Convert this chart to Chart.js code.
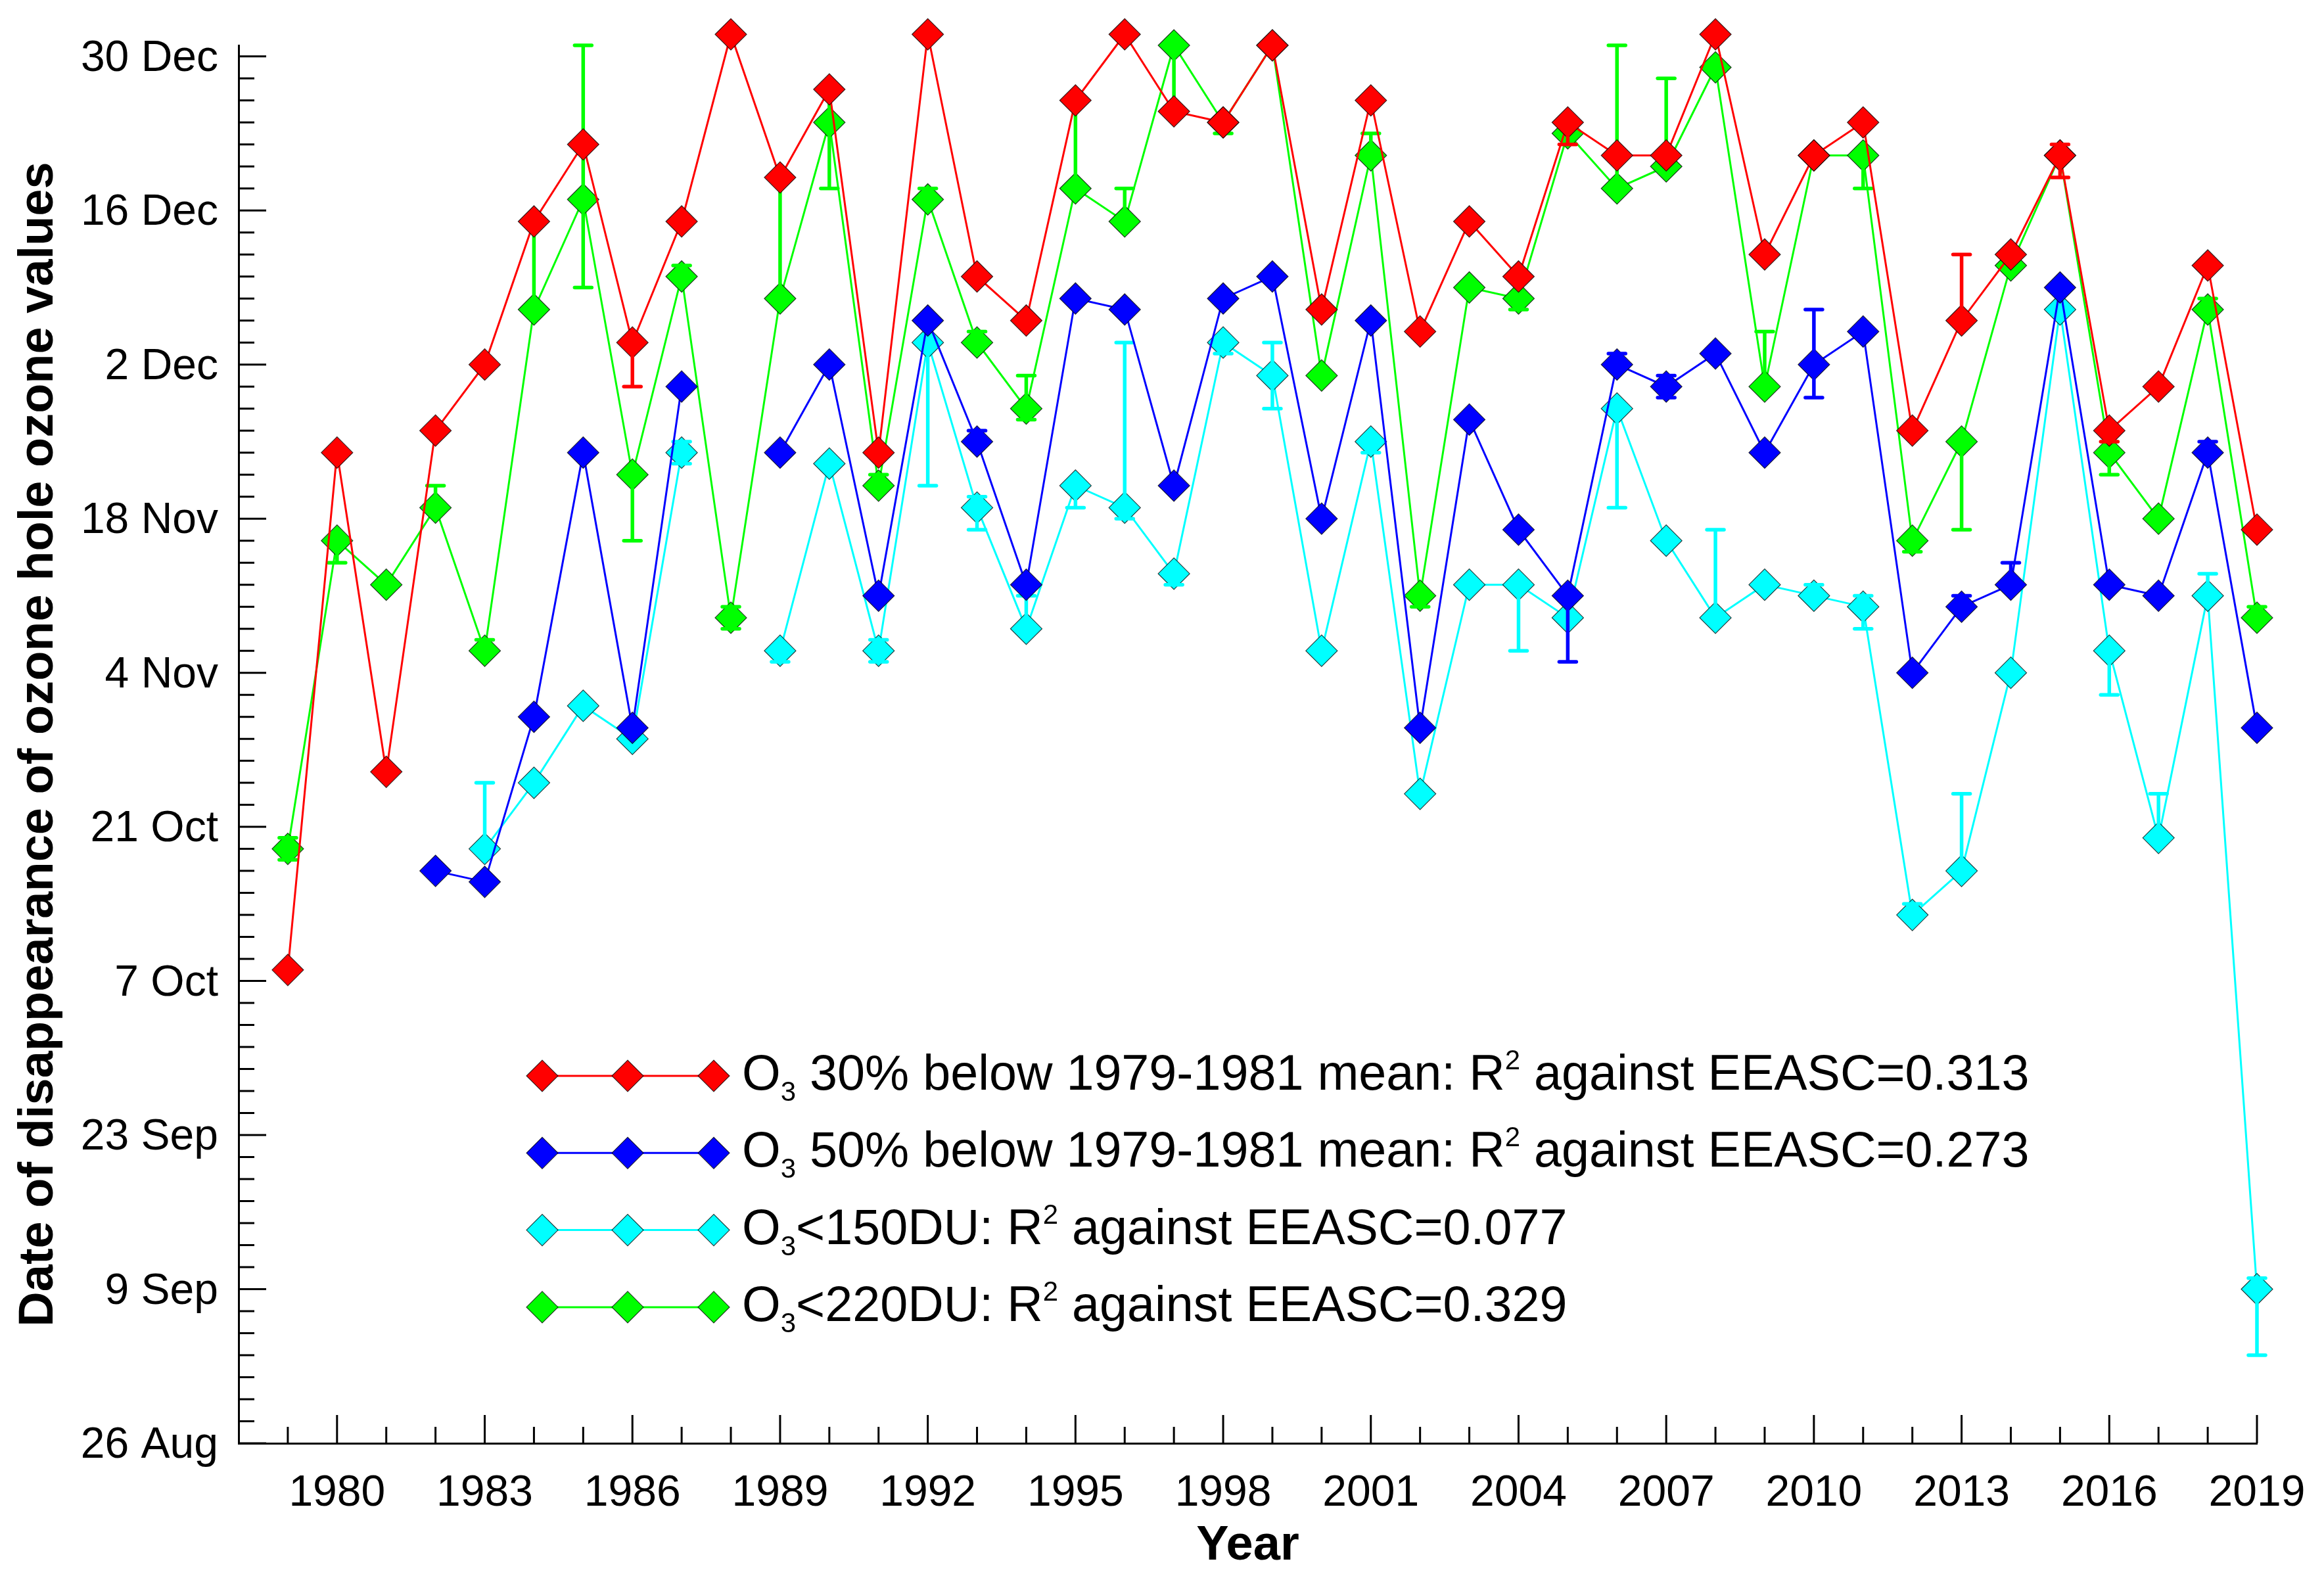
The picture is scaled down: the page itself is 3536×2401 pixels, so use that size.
<!DOCTYPE html>
<html>
<head>
<meta charset="utf-8">
<title>Ozone hole disappearance dates</title>
<script src="https://cdn.jsdelivr.net/npm/chart.js@4.4.0/dist/chart.umd.min.js"></script>
<style>
  html, body { margin: 0; padding: 0; background: #fff; }
  #wrap { width: 3536px; height: 2401px; }
</style>
</head>
<body>
<div id="wrap"><canvas id="ozoneChart" width="3536" height="2401" style="width:3536px;height:2401px"></canvas></div>
<script>
// values are days after 26 Aug (0 = 26 Aug, 126 = 30 Dec)
const years = [1979, 1980, 1981, 1982, 1983, 1984, 1985, 1986, 1987, 1988,
  1989, 1990, 1991, 1992, 1993, 1994, 1995, 1996, 1997, 1998,
  1999, 2000, 2001, 2002, 2003, 2004, 2005, 2006, 2007, 2008,
  2009, 2010, 2011, 2012, 2013, 2014, 2015, 2016, 2017, 2018, 2019];

const below30 = [43, 90, 61, 92, 98, 111, 118, 100, 111, 128,
  115, 123, 90, 128, 106, 102, 122, 128, 121, 120,
  127, 103, 122, 101, 111, 106, 120, 117, 117, 128,
  108, 117, 120, 92, 102, 108, 117, 92, 96, 107, 83];

const below50 = [null, null, null, 52, 51, 66, 90, 65, 96, null,
  90, 98, 77, 102, 91, 78, 104, 103, 87, 104,
  106, 84, 102, 65, 93, 83, 77, 98, 96, 99,
  90, 98, 101, 70, 76, 78, 105, 78, 77, 90, 65];

const under150 = [null, null, null, null, 54, 60, 67, 64, 90, null,
  72, 89, 72, 100, 85, 74, 87, 85, 79, 100,
  97, 72, 91, 59, 78, 78, 75, 94, 82, 75,
  78, 77, 76, 48, 52, 70, 103, 72, 55, 77, 14];

const under220 = [54, 82, 78, 85, 72, 103, 113, 88, 106, 75,
  104, 120, 87, 113, 100, 94, 114, 111, 127, 120,
  127, 97, 117, 77, 105, 104, 119, 114, 116, 125,
  96, 117, 117, 82, 91, 107, 117, 90, 84, 103, 75];

// error ranges: [year, low, high]
const below30Err = [[1986, 96, 100], [2005, 118, 120], [2013, 102, 108], [2015, 115, 118], [2016, 91, 92]];
const below50Err = [[1993, 91, 92], [2005, 71, 77], [2006, 98, 99], [2007, 95, 97], [2010, 95, 103],
  [2013, 76, 77], [2014, 78, 80], [2018, 90, 91]];
const under150Err = [[1983, 54, 60], [1987, 89, 91], [1989, 71, 72], [1991, 71, 73], [1992, 87, 100],
  [1993, 83, 86], [1994, 74, 77], [1995, 85, 87], [1996, 84, 100], [1997, 78, 79], [1998, 99, 100],
  [1999, 94, 100], [2001, 90, 91], [2004, 72, 78], [2006, 85, 94], [2008, 75, 83], [2010, 77, 78],
  [2011, 74, 77], [2012, 48, 49], [2013, 52, 59], [2016, 68, 72], [2017, 55, 59], [2018, 77, 79], [2019, 8, 15]];
const under220Err = [[1979, 53, 55], [1980, 80, 82], [1982, 85, 87], [1983, 72, 73], [1984, 103, 111],
  [1985, 105, 127], [1986, 82, 88], [1987, 106, 107], [1988, 74, 76], [1989, 104, 115], [1990, 114, 123],
  [1991, 87, 88], [1992, 113, 114], [1993, 100, 101], [1994, 93, 97], [1995, 114, 122], [1996, 111, 114],
  [1997, 121, 127], [1998, 119, 120], [2001, 117, 119], [2002, 76, 77], [2004, 103, 104], [2006, 114, 127],
  [2007, 116, 124], [2009, 96, 101], [2011, 114, 117], [2012, 81, 82], [2013, 83, 91], [2016, 88, 90],
  [2018, 103, 104], [2019, 75, 76]];

// legend texts: _x = subscript, ^x = superscript
const seriesNames = [
  'O_3 30% below 1979-1981 mean: R^2 against EEASC=0.313',
  'O_3 50% below 1979-1981 mean: R^2 against EEASC=0.273',
  'O_3<150DU: R^2 against EEASC=0.077',
  'O_3<220DU: R^2 against EEASC=0.329'
];

const yTickValues = [0, 14, 28, 42, 56, 70, 84, 98, 112, 126];
const yTickLabels = ['26 Aug', '9 Sep', '23 Sep', '7 Oct', '21 Oct', '4 Nov', '18 Nov', '2 Dec', '16 Dec', '30 Dec'];
const xTickYears = [1980, 1983, 1986, 1989, 1992, 1995, 1998, 2001, 2004, 2007, 2010, 2013, 2016, 2019];

const FAM = '"Liberation Sans", Arial, Helvetica, sans-serif';

function toPoints(values) {
  return years.map((yr, i) => ({ x: yr, y: values[i] }));
}

function makeDataset(name, values, errs, color) {
  return {
    label: name.replace('_3', '\u2083').replace('^2', '\u00b2'),
    rich: name,
    data: toPoints(values),
    errors: errs,
    borderColor: color,
    backgroundColor: color,
    borderWidth: 3,
    pointStyle: 'rectRot',
    pointRadius: 24,
    pointHoverRadius: 24,
    pointBackgroundColor: color,
    pointBorderColor: 'rgba(0,0,0,0.75)',
    pointBorderWidth: 1.2,
    spanGaps: false,
    tension: 0,
    clip: false
  };
}

// draws the vertical error bars of each series right after that series
const errorBars = {
  id: 'errorBars',
  afterDatasetDraw(chart, args) {
    const ds = chart.data.datasets[args.index];
    if (!ds.errors) return;
    const { ctx, scales: { x, y } } = chart;
    ctx.save();
    ctx.strokeStyle = ds.borderColor;
    ctx.lineWidth = 5.5;
    ds.errors.forEach(([yr, lo, hi]) => {
      const pt = ds.data.find(p => p.x === yr);
      const px = x.getPixelForValue(yr);
      const pLo = y.getPixelForValue(lo);
      const pHi = y.getPixelForValue(hi);
      ctx.lineCap = 'butt';
      ctx.beginPath();
      ctx.moveTo(px, pLo);
      ctx.lineTo(px, pHi);
      ctx.stroke();
      ctx.lineCap = 'round';
      ctx.beginPath();
      if (lo < pt.y) { ctx.moveTo(px - 13, pLo); ctx.lineTo(px + 13, pLo); }
      if (hi > pt.y) { ctx.moveTo(px - 13, pHi); ctx.lineTo(px + 13, pHi); }
      ctx.stroke();
    });
    ctx.restore();
  }
};

// tick marks pointing into the plot, major and minor
const innerTicks = {
  id: 'innerTicks',
  beforeDatasetsDraw(chart) {
    const { ctx, chartArea: a, scales: { x, y } } = chart;
    ctx.save();
    ctx.strokeStyle = '#000';
    ctx.lineWidth = 3;
    ctx.beginPath();
    for (let d = 0; d <= 126; d += 2) {
      const py = y.getPixelForValue(d);
      const len = yTickValues.includes(d) ? 42 : 24;
      ctx.moveTo(a.left, py);
      ctx.lineTo(a.left + len, py);
    }
    for (let yr = years[0]; yr <= years[years.length - 1]; yr++) {
      const px = x.getPixelForValue(yr);
      const len = xTickYears.includes(yr) ? 43 : 25;
      ctx.moveTo(px, a.bottom);
      ctx.lineTo(px, a.bottom - len);
    }
    ctx.stroke();
    ctx.restore();
  }
};

function drawRichText(ctx, str, x, y) {
  let i = 0;
  while (i < str.length) {
    const ch = str[i];
    if (ch === '_' || ch === '^') {
      const c = str[i + 1];
      ctx.font = '42px ' + FAM;
      ctx.fillText(c, x, y + (ch === '_' ? 17 : -31));
      x += ctx.measureText(c).width;
      i += 2;
    } else {
      let j = i;
      while (j < str.length && str[j] !== '_' && str[j] !== '^') j++;
      const t = str.slice(i, j);
      ctx.font = '75.5px ' + FAM;
      ctx.fillText(t, x, y);
      x += ctx.measureText(t).width;
      i = j;
    }
  }
}

const datasets = [
  makeDataset(seriesNames[0], below30, below30Err, '#ff0000'),
  makeDataset(seriesNames[1], below50, below50Err, '#0000ff'),
  makeDataset(seriesNames[3], under220, under220Err, '#00ff00'),
  makeDataset(seriesNames[2], under150, under150Err, '#00ffff')
];
// legend rows follow the figure: 30%, 50%, <150DU, <220DU
const legendOrder = [datasets[0], datasets[1], datasets[3], datasets[2]];

// legend inside the plot: line with three diamonds, then the label
const innerLegend = {
  id: 'innerLegend',
  afterDraw(chart) {
    const ctx = chart.ctx;
    const markX = [825, 955, 1086];
    ctx.save();
    legendOrder.forEach((ds, k) => {
      const rowY = 1637 + k * 117.3;
      ctx.strokeStyle = ds.borderColor;
      ctx.lineWidth = 3;
      ctx.beginPath();
      ctx.moveTo(markX[0], rowY);
      ctx.lineTo(markX[2], rowY);
      ctx.stroke();
      markX.forEach(mx => {
        ctx.beginPath();
        ctx.moveTo(mx - 24, rowY);
        ctx.lineTo(mx, rowY - 24);
        ctx.lineTo(mx + 24, rowY);
        ctx.lineTo(mx, rowY + 24);
        ctx.closePath();
        ctx.fillStyle = ds.borderColor;
        ctx.fill();
        ctx.strokeStyle = 'rgba(0,0,0,0.75)';
        ctx.lineWidth = 1.2;
        ctx.stroke();
      });
      ctx.fillStyle = '#000';
      ctx.textBaseline = 'alphabetic';
      drawRichText(ctx, ds.rich, 1129, rowY + 21);
    });
    ctx.restore();
  }
};

new Chart(document.getElementById('ozoneChart'), {
  type: 'line',
  data: { datasets: datasets },
  options: {
    responsive: false,
    devicePixelRatio: 1,
    animation: false,
    layout: { padding: { top: 69, right: 102, bottom: 0, left: 0 } },
    plugins: {
      legend: { display: false },
      tooltip: { enabled: false }
    },
    scales: {
      x: {
        type: 'linear',
        min: 1978,
        max: 2019,
        afterBuildTicks: s => { s.ticks = xTickYears.map(v => ({ value: v })); },
        afterFit: s => { s.height = 205; s.paddingLeft = 0; s.paddingRight = 0; },
        grid: { display: false, drawTicks: false },
        border: { display: true, color: '#000', width: 3 },
        ticks: {
          autoSkip: false, maxRotation: 0, minRotation: 0, padding: 37, color: '#000',
          font: { size: 66, family: FAM },
          callback: v => String(v)
        },
        title: {
          display: true, text: 'Year', color: '#000',
          font: { size: 74, weight: 'bold', family: FAM },
          padding: { top: 0, bottom: 4 }
        }
      },
      y: {
        type: 'linear',
        min: 0,
        max: 127,
        afterBuildTicks: s => { s.ticks = yTickValues.map(v => ({ value: v })); },
        afterFit: s => { s.width = 363; s.paddingTop = 0; s.paddingBottom = 0; },
        grid: { display: false, drawTicks: false },
        border: { display: true, color: '#000', width: 3 },
        ticks: {
          autoSkip: false, padding: 31, labelOffset: 4, color: '#000',
          font: { size: 66, family: FAM },
          callback: v => yTickLabels[yTickValues.indexOf(v)]
        },
        title: {
          display: true, text: 'Date of disappearance of ozone hole ozone values', color: '#000',
          font: { size: 74, weight: 'bold', family: FAM },
          padding: { top: 15, bottom: 0 }
        }
      }
    }
  },
  plugins: [innerTicks, errorBars, innerLegend]
});
</script>
</body>
</html>
